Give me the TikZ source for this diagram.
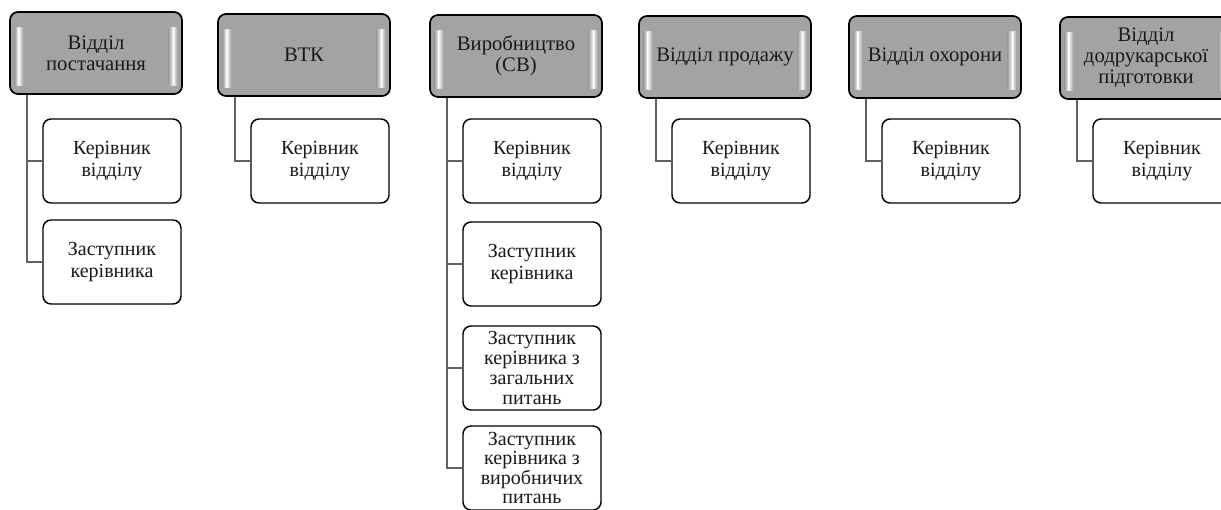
\documentclass[tikz,border=0pt]{standalone}
\usepackage{fontspec}
\setmainfont{Liberation Serif}
\definecolor{deptgray}{gray}{0.64}
\definecolor{glint}{gray}{0.97}
\definecolor{linegray}{gray}{0.38}
\tikzset{
  dept/.style={draw=black,line width=1.3pt,rounded corners=6pt,fill=deptgray,
    minimum width=129pt,minimum height=61.5pt,inner sep=1pt,align=center,text=black!90,
    font=\fontsize{15.5}{15.75}\selectfont,
    path picture={
      \begin{scope}[sharp corners]
      \shade[left color=deptgray,right color=glint]
        ([xshift=3.5pt,yshift=-12pt]path picture bounding box.north west) rectangle
        ([xshift=6.5pt,yshift=6pt]path picture bounding box.south west);
      \shade[left color=glint,right color=deptgray]
        ([xshift=6.5pt,yshift=-12pt]path picture bounding box.north west) rectangle
        ([xshift=10pt,yshift=6pt]path picture bounding box.south west);
      \shade[left color=deptgray,right color=glint]
        ([xshift=-10pt,yshift=-12pt]path picture bounding box.north east) rectangle
        ([xshift=-6.5pt,yshift=6pt]path picture bounding box.south east);
      \shade[left color=glint,right color=deptgray]
        ([xshift=-6.5pt,yshift=-12pt]path picture bounding box.north east) rectangle
        ([xshift=-3.5pt,yshift=6pt]path picture bounding box.south east);
      \end{scope}
    }},
  sub/.style={draw=black,line width=1.1pt,rounded corners=6pt,fill=white,
    minimum width=103.5pt,minimum height=63pt,inner sep=1pt,align=center,text=black!90,
    font=\fontsize{15}{16.5}\selectfont},
  conn/.style={draw=linegray,line width=1.7pt}
}
\begin{document}
\begin{tikzpicture}[x=0.75pt,y=-0.75pt]
\clip (0,0) rectangle (1221,510);
% departments
\node[dept] (d1) at (96,53) {Відділ\\постачання};
\node[dept] (d2) at (304,55) {ВТК};
\node[dept] (d3) at (516,56) {Виробництво\\(СВ)};
\node[dept] (d4) at (725,57) {Відділ продажу};
\node[dept] (d5) at (935,57) {Відділ охорони};
\node[dept] (d6) at (1146,58) {Відділ\\додрукарської\\підготовки};
% heads of departments
\foreach \i/\x in {1/112,2/320,3/532,4/741,5/951,6/1162}
  \node[sub] (h\i) at (\x,161) {Керівник\\відділу};
% deputies
\node[sub] (s1) at (112,262) {Заступник\\керівника};
\node[sub] (s3) at (532,264) {Заступник\\керівника};
\node[sub,font=\fontsize{15}{15}\selectfont] (g3) at (532,368) {Заступник\\керівника з\\загальних\\питань};
\node[sub,font=\fontsize{15}{14.6}\selectfont] (p3) at (532,468) {Заступник\\керівника з\\виробничих\\питань};
% connectors
\foreach \i in {1,...,6}
  \draw[conn] ([xshift=13.5pt]d\i.south west) |- (h\i.west);
\draw[conn] ([xshift=13.5pt]d1.south west) |- (s1.west);
\foreach \n in {s3,g3,p3}
  \draw[conn] ([xshift=13.5pt]d3.south west) |- (\n.west);
\end{tikzpicture}
\end{document}
